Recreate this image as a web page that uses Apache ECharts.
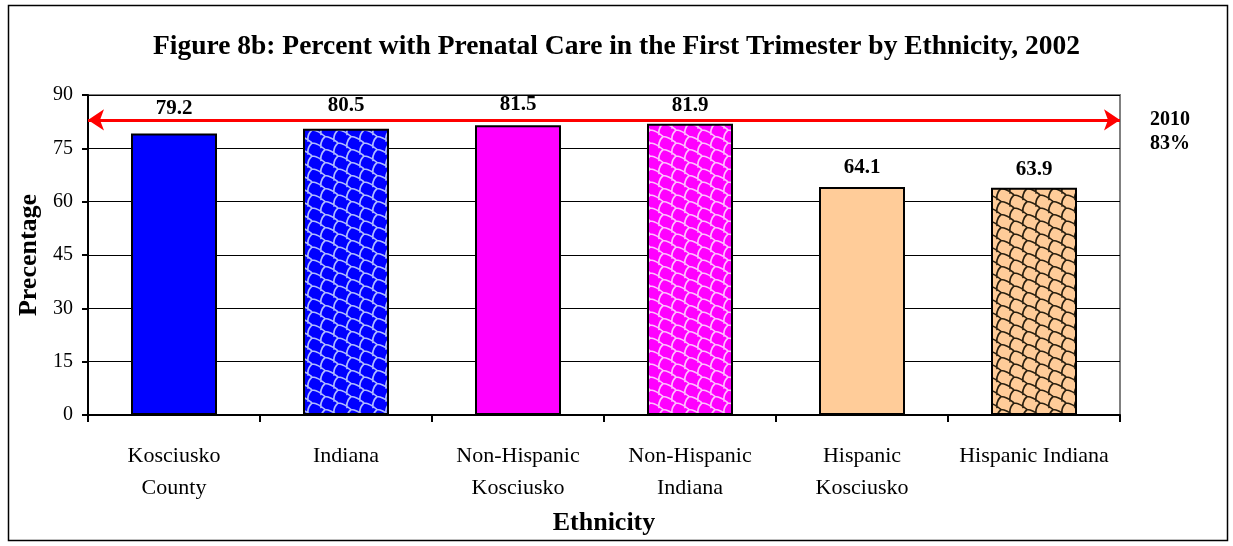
<!DOCTYPE html>
<html>
<head>
<meta charset="utf-8">
<script src="https://cdn.jsdelivr.net/npm/echarts@6/dist/echarts.min.js"></script>
<style>
  html, body { margin: 0; padding: 0; background: #fff; }
  #chart { width: 1233px; height: 546px; }
</style>
</head>
<body>
<div id="chart"></div>
<script>
const categories = ['Kosciusko\nCounty', 'Indiana', 'Non-Hispanic\nKosciusko', 'Non-Hispanic\nIndiana', 'Hispanic\nKosciusko', 'Hispanic Indiana']
const values = [79.2, 80.5, 81.5, 81.9, 64.1, 63.9]
const target = 83
const yTicks = [0, 15, 30, 45, 60, 75, 90]

const serif = '"Liberation Serif", "Times New Roman", serif'

// woven shingle pattern used for the "Indiana" bars
function makePattern (bg, fg) {
  const W = 26
  const H = 13
  const c = document.createElement('canvas')
  c.width = W
  c.height = H
  const ctx = c.getContext('2d')
  ctx.fillStyle = bg
  ctx.fillRect(0, 0, W, H)
  ctx.strokeStyle = fg
  ctx.lineWidth = 1.7
  ctx.lineCap = 'round'
  ctx.beginPath()
  for (const off of [-13, 0, 13]) {
    ctx.moveTo(0, off)
    ctx.quadraticCurveTo(6.5, off + 0.5, 13, off + 6.5)
    ctx.quadraticCurveTo(19.5, off + 7, 26, off + 13)
    // connectors down-left to the next diagonal
    ctx.moveTo(13, off + 6.5)
    ctx.quadraticCurveTo(8, off + 11, 9, off + 17.5)
    ctx.moveTo(26, off + 13)
    ctx.quadraticCurveTo(21, off + 17.5, 22, off + 24)
    ctx.moveTo(0, off + 13)
    ctx.quadraticCurveTo(-5, off + 17.5, -4, off + 24)
  }
  ctx.stroke()
  return c
}

const fills = [
  '#0000ff',
  { image: makePattern('#0000ff', '#b0bcff'), repeat: 'repeat' },
  '#ff00ff',
  { image: makePattern('#ff00ff', '#ffc0ff'), repeat: 'repeat' },
  '#ffcc99',
  { image: makePattern('#ffcc99', '#2a2010'), repeat: 'repeat' }
]
const labelGaps = [14, 13, 10, 8, 9, 8]

const chart = echarts.init(document.getElementById('chart'))
chart.setOption({
  animation: false,
  backgroundColor: '#fff',
  title: {
    text: 'Figure 8b: Percent with Prenatal Care in the First Trimester by Ethnicity, 2002',
    left: 'center',
    top: 28,
    textStyle: { fontFamily: serif, fontSize: 27.5, fontWeight: 'bold', color: '#000' }
  },
  graphic: [{
    type: 'rect',
    shape: { x: 8.5, y: 5.5, width: 1219, height: 535 },
    style: { fill: 'none', stroke: '#000', lineWidth: 1.5 },
    silent: true
  }],
  grid: { left: 88, right: 113, top: 95, bottom: 131, show: true, borderColor: '#808080', borderWidth: 2 },
  xAxis: {
    type: 'category',
    data: categories,
    name: 'Ethnicity',
    nameLocation: 'middle',
    nameGap: 95,
    nameTextStyle: { fontFamily: serif, fontSize: 26, fontWeight: 'bold', color: '#000' },
    axisLine: { lineStyle: { color: '#000', width: 2 } },
    axisTick: { show: true, length: 7, lineStyle: { color: '#000', width: 2 } },
    axisLabel: { fontFamily: serif, fontSize: 22, color: '#000', margin: 25, lineHeight: 32, interval: 0 }
  },
  yAxis: {
    type: 'value',
    min: yTicks[0],
    max: yTicks[yTicks.length - 1],
    interval: 15,
    name: 'Precentage',
    nameLocation: 'middle',
    nameGap: 37,
    nameTextStyle: { fontFamily: serif, fontSize: 26, fontWeight: 'bold', color: '#000' },
    axisLine: { show: true, lineStyle: { color: '#000', width: 2 } },
    axisTick: { show: true, length: 6, lineStyle: { color: '#000', width: 2 } },
    axisLabel: { fontFamily: serif, fontSize: 20, color: '#000', margin: 15 },
    splitLine: { lineStyle: { color: '#000', width: 1 } }
  },
  series: [{
    type: 'bar',
    barWidth: '50%',
    data: values.map((v, i) => ({
      value: v,
      itemStyle: { color: fills[i] },
      label: { distance: labelGaps[i] }
    })),
    itemStyle: { borderColor: '#000', borderWidth: 2 },
    label: {
      show: true,
      position: 'top',
      fontFamily: serif,
      fontSize: 21,
      fontWeight: 'bold',
      color: '#000'
    },
    markLine: {
      silent: true,
      symbol: ['arrow', 'arrow'],
      symbolSize: [16, 16],
      lineStyle: { color: '#ff0000', width: 3, type: 'solid' },
      label: {
        show: true,
        position: 'end',
        distance: 30,
        offset: [0, 12],
        formatter: '2010\n83%',
        fontFamily: serif,
        fontSize: 20,
        fontWeight: 'bold',
        color: '#000',
        lineHeight: 24
      },
      data: [{ yAxis: target }]
    }
  }]
})
</script>
</body>
</html>
